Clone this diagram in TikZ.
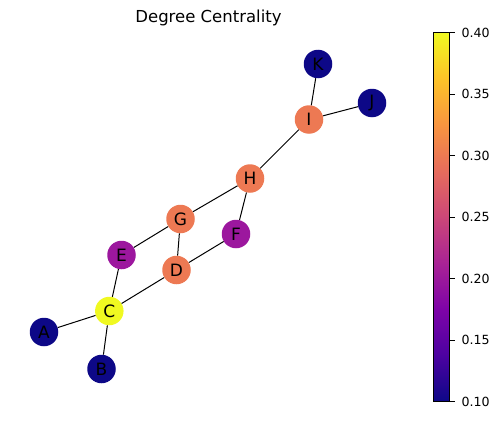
\documentclass[tikz,border=0pt]{standalone}
\usepackage{fontspec}
\setmainfont{DejaVu Sans}
\definecolor{pl0}{HTML}{0D0887}
\definecolor{pl1}{HTML}{4C02A1}
\definecolor{pl2}{HTML}{7E03A8}
\definecolor{pl3}{HTML}{A92395}
\definecolor{pl4}{HTML}{CC4778}
\definecolor{pl5}{HTML}{E66C5C}
\definecolor{pl6}{HTML}{F89540}
\definecolor{pl7}{HTML}{FDC328}
\definecolor{pl8}{HTML}{F0F921}
\definecolor{cLow}{HTML}{0D0887}
\definecolor{cMid}{HTML}{9C179E}
\definecolor{cHigh}{HTML}{ED7953}
\definecolor{cTop}{HTML}{F0F921}
\pgfdeclareverticalshading{plasma}{100bp}{color(0bp)=(pl0); color(25bp)=(pl0); color(31.25bp)=(pl1); color(37.5bp)=(pl2); color(43.75bp)=(pl3); color(50bp)=(pl4); color(56.25bp)=(pl5); color(62.5bp)=(pl6); color(68.75bp)=(pl7); color(75bp)=(pl8); color(100bp)=(pl8)}
\tikzset{
  vtx/.style={circle, minimum size=28.5pt, inner sep=0pt, font=\fontsize{17}{17}\selectfont},
  edge/.style={draw=black, line width=1pt},
  ticklab/.style={anchor=west, font=\fontsize{12.6}{12.6}\selectfont, inner sep=0pt},
}
\begin{document}
\begin{tikzpicture}[x=1pt,y=-1pt]
\useasboundingbox (0,0) rectangle (500,420);
\node[font=\fontsize{16.5}{16.5}\selectfont] (title) at (208.5,18) {Degree Centrality};
% nodes
\node[vtx, fill=cLow]  (K) at (318,64) {K};
\node[vtx, fill=cLow]  (J) at (372,103) {J};
\node[vtx, fill=cHigh] (I) at (309,119.5) {I};
\node[vtx, fill=cHigh] (H) at (250,178.5) {H};
\node[vtx, fill=cHigh] (G) at (180.5,219) {G};
\node[vtx, fill=cMid]  (F) at (236,234) {F};
\node[vtx, fill=cMid]  (E) at (121.5,255) {E};
\node[vtx, fill=cHigh] (D) at (176.5,270) {D};
\node[vtx, fill=cTop]  (C) at (109.3,311) {C};
\node[vtx, fill=cLow]  (A) at (44,332) {A};
\node[vtx, fill=cLow]  (B) at (101.5,369) {B};
% edges
\draw[edge] (K) -- (I);
\draw[edge] (J) -- (I);
\draw[edge] (I) -- (H);
\draw[edge] (H) -- (G);
\draw[edge] (H) -- (F);
\draw[edge] (G) -- (E);
\draw[edge] (G) -- (D);
\draw[edge] (F) -- (D);
\draw[edge] (E) -- (C);
\draw[edge] (D) -- (C);
\draw[edge] (C) -- (A);
\draw[edge] (C) -- (B);
% colorbar
\shade[shading=plasma] (433,32.5) rectangle (449.5,401.5);
\draw[black, line width=0.8pt] (433,32.5) rectangle (449.5,401.5);
\foreach \v/\lab in {0/0.10,1/0.15,2/0.20,3/0.25,4/0.30,5/0.35,6/0.40}{
  \draw[black, line width=0.8pt] (449.5,{401.5-\v*61.5}) -- (454.5,{401.5-\v*61.5});
  \node[ticklab] at (461.5,{401.5-\v*61.5}) {\lab};
}
\end{tikzpicture}
\end{document}
